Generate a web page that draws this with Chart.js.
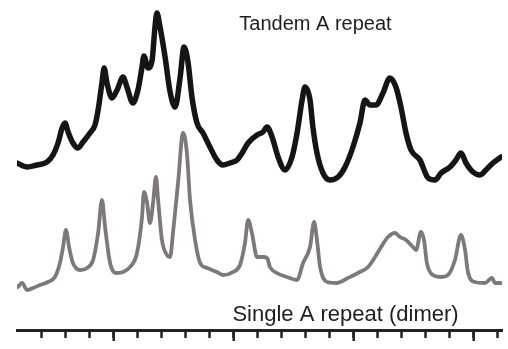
<!DOCTYPE html>
<html>
<head>
<meta charset="utf-8">
<script src="https://cdn.jsdelivr.net/npm/chart.js@4.4.1/dist/chart.umd.min.js"></script>
<style>
html,body{margin:0;padding:0;background:#fff;}
#wrap{width:508px;height:349px;position:relative;}
</style>
</head>
<body>
<div id="wrap"><canvas id="c"></canvas></div>
<script>
// x in tick units, y in relative intensity
const tandemX = [-0.03,0.39,0.80,1.22,1.47,1.68,1.85,1.97,2.10,2.30,2.51,2.72,3.01,3.22,3.35,3.51,3.60,3.72,3.93,4.14,4.39,4.55,4.80,5.01,5.18,5.26,5.43,5.60,5.72,5.80,5.93,6.14,6.35,6.56,6.77,6.93,7.10,7.26,7.47,7.72,8.01,8.30,8.55,8.85,9.14,9.35,9.60,9.97,10.22,10.39,10.60,10.85,11.14,11.43,11.64,11.85,11.97,12.18,12.30,12.47,12.72,13.01,13.35,13.64,13.97,14.26,14.47,14.68,14.93,15.22,15.51,15.76,15.97,16.18,16.39,16.76,17.10,17.39,17.64,18.01,18.26,18.47,18.68,18.97,19.26,19.51,19.80,20.14];
const tandemY = [169,165,167,170,177,189,204,209,200,189,184,190,199,207,222,249,264,249,234,242,255,245,229,242,265,276,264,272,305,319,305,275,240,225,255,285,269,235,209,199,185,172,167,169,172,179,189,197,200,205,195,175,162,175,199,232,245,232,205,179,159,152,155,165,185,209,232,227,227,239,254,245,225,199,182,172,154,152,159,165,172,179,169,160,157,162,169,175];
const singleX = [0.01,0.18,0.39,0.64,0.93,1.26,1.55,1.76,1.89,2.01,2.14,2.30,2.60,2.89,3.14,3.35,3.51,3.64,3.85,4.14,4.39,4.68,4.97,5.18,5.26,5.39,5.51,5.64,5.76,5.85,6.01,6.22,6.35,6.47,6.68,6.89,7.05,7.18,7.39,7.60,7.89,8.30,8.55,8.97,9.26,9.47,9.60,9.76,9.97,10.22,10.39,10.51,10.80,11.22,11.64,11.89,12.18,12.35,12.47,12.60,12.89,13.30,13.76,14.18,14.60,14.89,15.14,15.43,15.72,15.93,16.18,16.47,16.60,16.80,16.93,17.05,17.30,17.64,17.93,18.22,18.47,18.64,18.76,19.05,19.47,19.76,19.89,20.14];
const singleY = [45,49,42,44,47,50,55,69,85,102,85,69,62,64,72,99,132,105,69,59,60,65,79,115,140,129,109,129,155,132,92,77,75,99,149,199,179,132,92,69,64,60,57,60,67,89,112,99,75,75,74,65,59,55,52,69,85,110,92,65,50,49,54,59,65,75,85,95,99,95,92,85,82,100,92,69,57,55,57,72,97,82,60,50,49,54,49,49];
const tickValues = [1,2,3,4,5,6,7,8,9,10,11,12,13,14,15,16,17,18,19,20];
const majorTicks = [4,9,14,19];
const labels = ["Tandem A repeat","Single A repeat (dimer)"];

const toPts = (xs, ys) => xs.map((x, i) => ({x: x, y: ys[i]}));

const longTicks = {
  id: 'longTicks',
  afterDraw(chart) {
    const xs = chart.scales.x;
    const ctx = chart.ctx;
    ctx.save();
    ctx.strokeStyle = '#222';
    ctx.lineWidth = 2.5;
    majorTicks.forEach(v => {
      const px = xs.getPixelForValue(v);
      ctx.beginPath();
      ctx.moveTo(px, xs.top);
      ctx.lineTo(px, xs.top + 11);
      ctx.stroke();
    });
    ctx.fillStyle = '#1e1e1e';
    ctx.textAlign = 'center';
    ctx.textBaseline = 'alphabetic';
    ctx.font = '20px "Liberation Sans", Arial, sans-serif';
    ctx.fillText(labels[0], 315.5, 30);
    ctx.font = '22px "Liberation Sans", Arial, sans-serif';
    ctx.fillText(labels[1], 345.5, 321);
    ctx.restore();
  }
};

new Chart(document.getElementById('c'), {
  type: 'line',
  data: {
    datasets: [
      {label: labels[0], data: toPts(tandemX, tandemY), borderColor: '#151515', borderWidth: 5.5, pointRadius: 0, cubicInterpolationMode: 'monotone', borderJoinStyle: 'round', borderCapStyle: 'round', fill: false},
      {label: labels[1], data: toPts(singleX, singleY), borderColor: '#7e7978', borderWidth: 3.8, pointRadius: 0, cubicInterpolationMode: 'monotone', borderJoinStyle: 'round', borderCapStyle: 'round', fill: false}
    ]
  },
  options: {
    responsive: true,
    maintainAspectRatio: false,
    animation: false,
    layout: {padding: {left: 17, right: 6, top: 0, bottom: 11}},
    plugins: {legend: {display: false}, tooltip: {enabled: false}, title: {display: false}},
    scales: {
      x: {
        type: 'linear', min: -0.03, max: 20.18,
        afterBuildTicks: (scale) => { scale.ticks = tickValues.map(v => ({value: v})); },
        ticks: {display: false},
        grid: {display: true, drawOnChartArea: false, drawTicks: true, tickLength: 8, tickWidth: 2.5, tickColor: '#222'},
        border: {display: true, width: 3, color: '#222'}
      },
      y: {type: 'linear', display: false, min: 2, max: 332}
    }
  },
  plugins: [longTicks]
});
</script>
</body>
</html>
